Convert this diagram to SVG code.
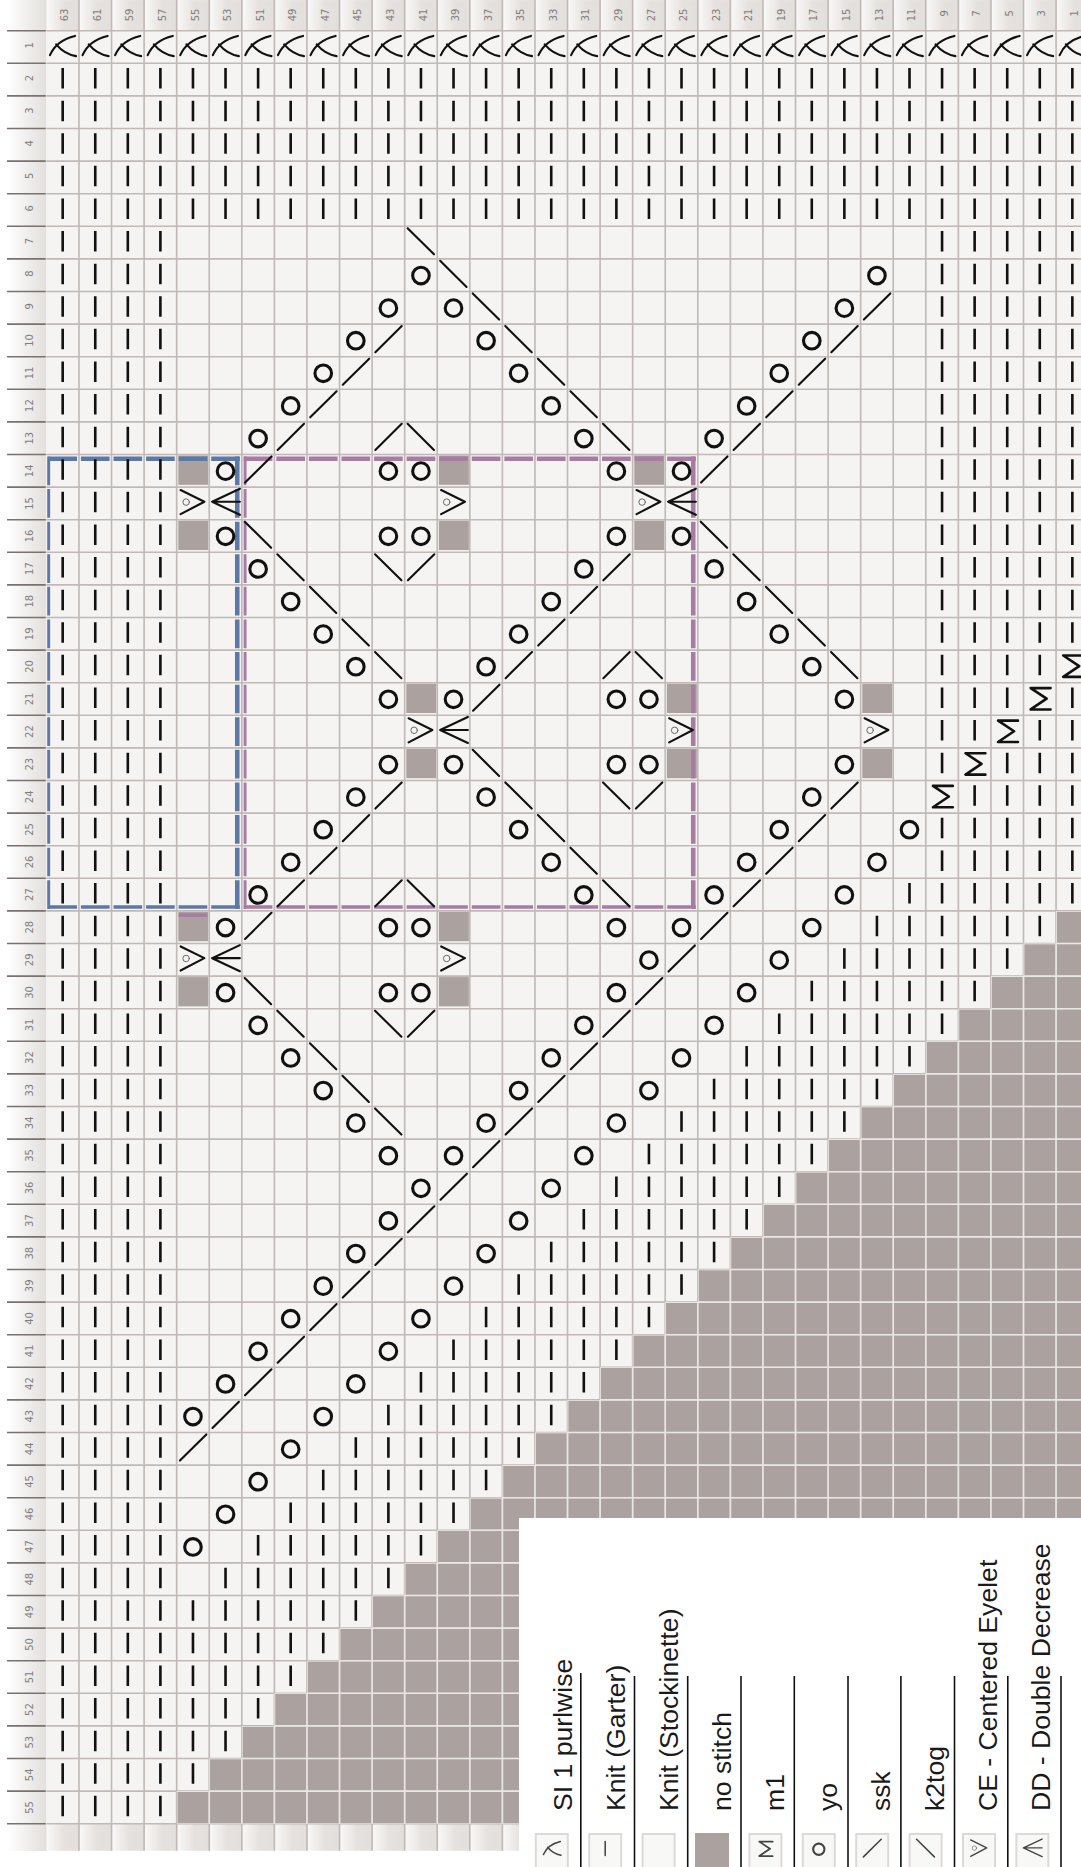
<svg xmlns="http://www.w3.org/2000/svg" width="1081" height="1867" viewBox="0 0 1081 1867">
<style>
.sym{fill:none;stroke:#111;stroke-width:.065;stroke-linecap:round;stroke-linejoin:round}
.lab{font-family:"DejaVu Sans",sans-serif;font-size:10px;fill:#827d7a;text-anchor:middle}
.leg{font-family:"Liberation Sans",Arial,sans-serif;font-size:26.6px;fill:#1a1a1a}
.box{fill:#f8f8f7;stroke:#dcd9d7;stroke-width:2}
.icon{fill:none;stroke:#444;stroke-width:.07;stroke-linecap:round;stroke-linejoin:round}
.sep{stroke:#111;stroke-width:1.6}
</style>
<defs>
<linearGradient id="hg"><stop offset="0" stop-color="#faf9f8"/><stop offset=".55" stop-color="#e5e1de"/><stop offset="1" stop-color="#e2dfdc"/></linearGradient>
<linearGradient id="lg"><stop offset="0" stop-color="#fff"/><stop offset="1" stop-color="#e2dfdc"/></linearGradient>
<pattern id="hdr" patternUnits="userSpaceOnUse" width="1" height="1"><rect width="1" height="1" fill="url(#hg)"/></pattern>
<path id="sl" d="M.11.75Q.3.3.88.16M.3.42Q.55.72.91.78"/>
<circle id="o" cx=".5" cy=".51" r=".255" stroke-width=".095"/>
<path id="ne" d="M.1.86L.91.06"/>
<path id="nw" d="M.09.06L.9.86"/>
<path id="m" d="M.83.165H.22L.71.49.22.82H.83" stroke-width=".08"/>
<g id="ce"><path d="M.12.09L.85.45.12.83" stroke-width=".065"/><circle cx=".29" cy=".46" r=".1" stroke="#666" stroke-width=".03"/></g>
<path id="dd" d="M.94.05L.09.45.94.85M.09.45H.94" stroke-width=".065"/>
<path id="bar" d="M.5.16V.8"/>
<rect id="g" x=".05" y=".03" width=".92" height=".9" fill="#aba2a0"/>
<path id="gh" d="M16.5-.025V55.025" fill="none" stroke-width="33" stroke-dasharray=".05 .95"/>
<path id="gv" d="M.975 27.445H33" fill="none" stroke-width="56.77" stroke-dasharray=".05 .95"/>
<clipPath id="st"><path d="M33 27H31V28H30V29H29V30H28V31H27V32H26V33H25V34H24V35H23V36H22V37H21V38H20V39H19V40H18V41H17V42H16V43H15V44H14V45H13V46H12V47H11V48H10V49H9V50H8V51H7V52H6V53H5V54H4V55H33Z"/></clipPath>
</defs>
<rect width="1081" height="1867" fill="#fff"/>
<rect x="7" y="0" width="39.5" height="1851" fill="url(#lg)"/>
<g id="chart" transform="translate(46.4 30.7) scale(32.57 32.6)">
<rect x="0" y="-.94" width="33" height=".94" fill="url(#hdr)"/>
<rect x="0" y="55" width="33" height=".83" fill="url(#hdr)"/>
<rect x="0" y="0" width="33" height="55" fill="#f5f4f3"/>
<path d="M33 27H31V28H30V29H29V30H28V31H27V32H26V33H25V34H24V35H23V36H22V37H21V38H20V39H19V40H18V41H17V42H16V43H15V44H14V45H13V46H12V47H11V48H10V49H9V50H8V51H7V52H6V53H5V54H4V55H33Z" fill="#aba2a0"/>
<g id="nostitch">
<use href="#g" x="4" y="13"/><use href="#g" x="12" y="13"/><use href="#g" x="18" y="13"/>
<use href="#g" x="4" y="15"/><use href="#g" x="12" y="15"/><use href="#g" x="18" y="15"/>
<use href="#g" x="11" y="20"/><use href="#g" x="19" y="20"/><use href="#g" x="25" y="20"/>
<use href="#g" x="11" y="22"/><use href="#g" x="19" y="22"/><use href="#g" x="25" y="22"/>
<use href="#g" x="4" y="27"/><use href="#g" x="12" y="27"/>
<use href="#g" x="4" y="29"/><use href="#g" x="12" y="29"/>
</g>
<g id="blue-box" fill="none" stroke="#5c78a6" stroke-dasharray=".88 .12">
<path d="M.06 13.13H5.94" stroke-width=".14"/>
<path d="M5.86 13.06V26.94" stroke-width=".14"/>
<path d="M.06 26.88H5.94" stroke-width=".11"/>
<path d="M.07 13.06V26.94" stroke-width=".09"/>
</g>
<g id="pink-box" fill="none" stroke="#a87ba3" stroke-dasharray=".88 .12">
<path d="M6.06 13.13H19.94" stroke-width=".14"/>
<path d="M19.86 13.06V26.94" stroke-width=".14"/>
<path d="M6.06 26.88H19.94" stroke-width=".11"/>
<path d="M6.1 13.06V26.94" stroke-width=".09"/>
<path d="M4.06 27.13H4.94" stroke-width=".11"/>
</g>
<g id="grid" stroke="#c0b9b6"><use href="#gh"/><use href="#gv"/></g>
<g id="grid-nostitch" stroke="#e9e6e5" clip-path="url(#st)"><use href="#gh"/><use href="#gv"/></g>
<path id="row-rules" d="M-.615-.025V55.025" fill="none" stroke="#7a7270" stroke-width="1.19" stroke-dasharray=".05 .95"/>
<path id="knit-bars" fill="none" stroke="#111" stroke-width=".63" stroke-dasharray=".08 .92" d="M.46 1.46H31.54M.46 2.46H31.54M.46 3.46H31.54M.46 4.46H31.54M.46 5.46H31.54
M.46 6.46H3.54M27.46 6.46H31.54M.46 7.46H3.54M27.46 7.46H31.54M.46 8.46H3.54M27.46 8.46H31.54M.46 9.46H3.54M27.46 9.46H31.54M.46 10.46H3.54M27.46 10.46H31.54
M.46 11.46H3.54M27.46 11.46H31.54M.46 12.46H3.54M27.46 12.46H31.54M.46 13.46H3.54M27.46 13.46H31.54M.46 14.46H3.54M27.46 14.46H31.54M.46 15.46H3.54M27.46 15.46H31.54
M.46 16.46H3.54M27.46 16.46H31.54M.46 17.46H3.54M27.46 17.46H31.54M.46 18.46H3.54M27.46 18.46H31.54
M.46 19.46H3.54M27.46 19.46H30.54
M.46 20.46H3.54M27.46 20.46H29.54M31.46 20.46H31.54
M.46 21.46H3.54M27.46 21.46H28.54M30.46 21.46H31.54
M.46 22.46H3.54M27.46 22.46H27.54M29.46 22.46H31.54
M.46 23.46H3.54M28.46 23.46H31.54
M.46 24.46H3.54M27.46 24.46H31.54
M.46 25.46H3.54M27.46 25.46H31.54
M.46 26.46H3.54M26.46 26.46H31.54
M.46 27.46H3.54M25.46 27.46H30.54
M.46 28.46H3.54M24.46 28.46H29.54
M.46 29.46H3.54M23.46 29.46H28.54
M.46 30.46H3.54M22.46 30.46H27.54
M.46 31.46H3.54M21.46 31.46H26.54
M.46 32.46H3.54M20.46 32.46H25.54
M.46 33.46H3.54M19.46 33.46H24.54
M.46 34.46H3.54M18.46 34.46H23.54
M.46 35.46H3.54M17.46 35.46H22.54
M.46 36.46H3.54M16.46 36.46H21.54
M.46 37.46H3.54M15.46 37.46H20.54
M.46 38.46H3.54M14.46 38.46H19.54
M.46 39.46H3.54M13.46 39.46H18.54
M.46 40.46H3.54M12.46 40.46H17.54
M.46 41.46H3.54M11.46 41.46H16.54
M.46 42.46H3.54M10.46 42.46H15.54
M.46 43.46H3.54M9.46 43.46H14.54
M.46 44.46H3.54M8.46 44.46H13.54
M.46 45.46H3.54M7.46 45.46H12.54
M.46 46.46H3.54M6.46 46.46H11.54
M.46 47.46H3.54M5.46 47.46H10.54
M.46 48.46H9.54M.46 49.46H8.54M.46 50.46H7.54M.46 51.46H6.54M.46 52.46H5.54M.46 53.46H4.54M.46 54.46H3.54"/>
<g id="symbols" class="sym">
<g id="sl1-row">
<use href="#sl" x="0"/><use href="#sl" x="1"/><use href="#sl" x="2"/><use href="#sl" x="3"/><use href="#sl" x="4"/><use href="#sl" x="5"/><use href="#sl" x="6"/><use href="#sl" x="7"/>
<use href="#sl" x="8"/><use href="#sl" x="9"/><use href="#sl" x="10"/><use href="#sl" x="11"/><use href="#sl" x="12"/><use href="#sl" x="13"/><use href="#sl" x="14"/><use href="#sl" x="15"/>
<use href="#sl" x="16"/><use href="#sl" x="17"/><use href="#sl" x="18"/><use href="#sl" x="19"/><use href="#sl" x="20"/><use href="#sl" x="21"/><use href="#sl" x="22"/><use href="#sl" x="23"/>
<use href="#sl" x="24"/><use href="#sl" x="25"/><use href="#sl" x="26"/><use href="#sl" x="27"/><use href="#sl" x="28"/><use href="#sl" x="29"/><use href="#sl" x="30"/><use href="#sl" x="31"/>
</g>
<g id="yo">
<use href="#o" x="11" y="7"/><use href="#o" x="25" y="7"/>
<use href="#o" x="10" y="8"/><use href="#o" x="12" y="8"/><use href="#o" x="24" y="8"/>
<use href="#o" x="9" y="9"/><use href="#o" x="13" y="9"/><use href="#o" x="23" y="9"/>
<use href="#o" x="8" y="10"/><use href="#o" x="14" y="10"/><use href="#o" x="22" y="10"/>
<use href="#o" x="7" y="11"/><use href="#o" x="15" y="11"/><use href="#o" x="21" y="11"/>
<use href="#o" x="6" y="12"/><use href="#o" x="16" y="12"/><use href="#o" x="20" y="12"/>
<use href="#o" x="5" y="13"/><use href="#o" x="10" y="13"/><use href="#o" x="11" y="13"/><use href="#o" x="17" y="13"/><use href="#o" x="19" y="13"/>
<use href="#o" x="5" y="15"/><use href="#o" x="10" y="15"/><use href="#o" x="11" y="15"/><use href="#o" x="17" y="15"/><use href="#o" x="19" y="15"/>
<use href="#o" x="6" y="16"/><use href="#o" x="16" y="16"/><use href="#o" x="20" y="16"/>
<use href="#o" x="7" y="17"/><use href="#o" x="15" y="17"/><use href="#o" x="21" y="17"/>
<use href="#o" x="8" y="18"/><use href="#o" x="14" y="18"/><use href="#o" x="22" y="18"/>
<use href="#o" x="9" y="19"/><use href="#o" x="13" y="19"/><use href="#o" x="23" y="19"/>
<use href="#o" x="10" y="20"/><use href="#o" x="12" y="20"/><use href="#o" x="17" y="20"/><use href="#o" x="18" y="20"/><use href="#o" x="24" y="20"/>
<use href="#o" x="10" y="22"/><use href="#o" x="12" y="22"/><use href="#o" x="17" y="22"/><use href="#o" x="18" y="22"/><use href="#o" x="24" y="22"/>
<use href="#o" x="9" y="23"/><use href="#o" x="13" y="23"/><use href="#o" x="23" y="23"/>
<use href="#o" x="8" y="24"/><use href="#o" x="14" y="24"/><use href="#o" x="22" y="24"/><use href="#o" x="26" y="24"/>
<use href="#o" x="7" y="25"/><use href="#o" x="15" y="25"/><use href="#o" x="21" y="25"/><use href="#o" x="25" y="25"/>
<use href="#o" x="6" y="26"/><use href="#o" x="16" y="26"/><use href="#o" x="20" y="26"/><use href="#o" x="24" y="26"/>
<use href="#o" x="5" y="27"/><use href="#o" x="10" y="27"/><use href="#o" x="11" y="27"/><use href="#o" x="17" y="27"/><use href="#o" x="19" y="27"/><use href="#o" x="23" y="27"/>
<use href="#o" x="18" y="28"/><use href="#o" x="22" y="28"/>
<use href="#o" x="5" y="29"/><use href="#o" x="10" y="29"/><use href="#o" x="11" y="29"/><use href="#o" x="17" y="29"/><use href="#o" x="21" y="29"/>
<use href="#o" x="6" y="30"/><use href="#o" x="16" y="30"/><use href="#o" x="20" y="30"/>
<use href="#o" x="7" y="31"/><use href="#o" x="15" y="31"/><use href="#o" x="19" y="31"/>
<use href="#o" x="8" y="32"/><use href="#o" x="14" y="32"/><use href="#o" x="18" y="32"/>
<use href="#o" x="9" y="33"/><use href="#o" x="13" y="33"/><use href="#o" x="17" y="33"/>
<use href="#o" x="10" y="34"/><use href="#o" x="12" y="34"/><use href="#o" x="16" y="34"/>
<use href="#o" x="11" y="35"/><use href="#o" x="15" y="35"/>
<use href="#o" x="10" y="36"/><use href="#o" x="14" y="36"/>
<use href="#o" x="9" y="37"/><use href="#o" x="13" y="37"/>
<use href="#o" x="8" y="38"/><use href="#o" x="12" y="38"/>
<use href="#o" x="7" y="39"/><use href="#o" x="11" y="39"/>
<use href="#o" x="6" y="40"/><use href="#o" x="10" y="40"/>
<use href="#o" x="5" y="41"/><use href="#o" x="9" y="41"/>
<use href="#o" x="4" y="42"/><use href="#o" x="8" y="42"/>
<use href="#o" x="7" y="43"/><use href="#o" x="6" y="44"/><use href="#o" x="5" y="45"/><use href="#o" x="4" y="46"/>
</g>
<g id="ssk">
<use href="#ne" x="25" y="8"/>
<use href="#ne" x="10" y="9"/><use href="#ne" x="24" y="9"/>
<use href="#ne" x="9" y="10"/><use href="#ne" x="23" y="10"/>
<use href="#ne" x="8" y="11"/><use href="#ne" x="22" y="11"/>
<use href="#ne" x="7" y="12"/><use href="#ne" x="10" y="12"/><use href="#ne" x="21" y="12"/>
<use href="#ne" x="6" y="13"/><use href="#ne" x="20" y="13"/>
<use href="#ne" x="11" y="16"/><use href="#ne" x="17" y="16"/>
<use href="#ne" x="16" y="17"/><use href="#ne" x="15" y="18"/>
<use href="#ne" x="14" y="19"/><use href="#ne" x="17" y="19"/>
<use href="#ne" x="13" y="20"/>
<use href="#ne" x="10" y="23"/><use href="#ne" x="18" y="23"/><use href="#ne" x="24" y="23"/>
<use href="#ne" x="9" y="24"/><use href="#ne" x="23" y="24"/>
<use href="#ne" x="8" y="25"/><use href="#ne" x="22" y="25"/>
<use href="#ne" x="7" y="26"/><use href="#ne" x="10" y="26"/><use href="#ne" x="21" y="26"/>
<use href="#ne" x="6" y="27"/><use href="#ne" x="20" y="27"/>
<use href="#ne" x="19" y="28"/><use href="#ne" x="18" y="29"/>
<use href="#ne" x="11" y="30"/><use href="#ne" x="17" y="30"/>
<use href="#ne" x="16" y="31"/><use href="#ne" x="15" y="32"/><use href="#ne" x="14" y="33"/><use href="#ne" x="13" y="34"/><use href="#ne" x="12" y="35"/><use href="#ne" x="11" y="36"/><use href="#ne" x="10" y="37"/><use href="#ne" x="9" y="38"/><use href="#ne" x="8" y="39"/><use href="#ne" x="7" y="40"/><use href="#ne" x="6" y="41"/><use href="#ne" x="5" y="42"/><use href="#ne" x="4" y="43"/>
</g>
<g id="k2tog">
<use href="#nw" x="11" y="6"/><use href="#nw" x="12" y="7"/><use href="#nw" x="13" y="8"/><use href="#nw" x="14" y="9"/><use href="#nw" x="15" y="10"/><use href="#nw" x="16" y="11"/>
<use href="#nw" x="11" y="12"/><use href="#nw" x="17" y="12"/>
<use href="#nw" x="6" y="15"/><use href="#nw" x="20" y="15"/>
<use href="#nw" x="7" y="16"/><use href="#nw" x="10" y="16"/><use href="#nw" x="21" y="16"/>
<use href="#nw" x="8" y="17"/><use href="#nw" x="22" y="17"/>
<use href="#nw" x="9" y="18"/><use href="#nw" x="23" y="18"/>
<use href="#nw" x="10" y="19"/><use href="#nw" x="18" y="19"/><use href="#nw" x="24" y="19"/>
<use href="#nw" x="13" y="22"/>
<use href="#nw" x="14" y="23"/><use href="#nw" x="17" y="23"/>
<use href="#nw" x="15" y="24"/><use href="#nw" x="16" y="25"/>
<use href="#nw" x="11" y="26"/><use href="#nw" x="17" y="26"/>
<use href="#nw" x="6" y="29"/>
<use href="#nw" x="7" y="30"/><use href="#nw" x="10" y="30"/>
<use href="#nw" x="8" y="31"/><use href="#nw" x="9" y="32"/><use href="#nw" x="10" y="33"/>
</g>
<g id="centered-eyelet">
<use href="#ce" x="4" y="14"/><use href="#ce" x="12" y="14"/><use href="#ce" x="18" y="14"/>
<use href="#ce" x="11" y="21"/><use href="#ce" x="19" y="21"/><use href="#ce" x="25" y="21"/>
<use href="#ce" x="4" y="28"/><use href="#ce" x="12" y="28"/>
</g>
<g id="double-decrease">
<use href="#dd" x="5" y="14"/><use href="#dd" x="19" y="14"/><use href="#dd" x="12" y="21"/><use href="#dd" x="5" y="28"/>
</g>
<g id="m1">
<use href="#m" x="31" y="19"/><use href="#m" x="30" y="20"/><use href="#m" x="29" y="21"/><use href="#m" x="28" y="22"/><use href="#m" x="27" y="23"/>
</g>
</g>
</g>
<g id="column-labels">
<text class="lab" transform="translate(68.2 15) rotate(-90)">63</text><text class="lab" transform="translate(100.8 15) rotate(-90)">61</text><text class="lab" transform="translate(133.3 15) rotate(-90)">59</text><text class="lab" transform="translate(165.9 15) rotate(-90)">57</text>
<text class="lab" transform="translate(198.5 15) rotate(-90)">55</text><text class="lab" transform="translate(231 15) rotate(-90)">53</text><text class="lab" transform="translate(263.6 15) rotate(-90)">51</text><text class="lab" transform="translate(296.2 15) rotate(-90)">49</text>
<text class="lab" transform="translate(328.8 15) rotate(-90)">47</text><text class="lab" transform="translate(361.3 15) rotate(-90)">45</text><text class="lab" transform="translate(393.9 15) rotate(-90)">43</text><text class="lab" transform="translate(426.5 15) rotate(-90)">41</text>
<text class="lab" transform="translate(459 15) rotate(-90)">39</text><text class="lab" transform="translate(491.6 15) rotate(-90)">37</text><text class="lab" transform="translate(524.2 15) rotate(-90)">35</text><text class="lab" transform="translate(556.8 15) rotate(-90)">33</text>
<text class="lab" transform="translate(589.3 15) rotate(-90)">31</text><text class="lab" transform="translate(621.9 15) rotate(-90)">29</text><text class="lab" transform="translate(654.5 15) rotate(-90)">27</text><text class="lab" transform="translate(687 15) rotate(-90)">25</text>
<text class="lab" transform="translate(719.6 15) rotate(-90)">23</text><text class="lab" transform="translate(752.2 15) rotate(-90)">21</text><text class="lab" transform="translate(784.7 15) rotate(-90)">19</text><text class="lab" transform="translate(817.3 15) rotate(-90)">17</text>
<text class="lab" transform="translate(849.9 15) rotate(-90)">15</text><text class="lab" transform="translate(882.5 15) rotate(-90)">13</text><text class="lab" transform="translate(915 15) rotate(-90)">11</text><text class="lab" transform="translate(947.6 13.4) rotate(-90)">9</text>
<text class="lab" transform="translate(980.2 13.4) rotate(-90)">7</text><text class="lab" transform="translate(1012.7 13.4) rotate(-90)">5</text><text class="lab" transform="translate(1045.3 13.4) rotate(-90)">3</text><text class="lab" transform="translate(1077.9 13.4) rotate(-90)">1</text>
</g>
<g id="row-labels">
<text class="lab" transform="translate(32.5 45.4) rotate(-90)">1</text><text class="lab" transform="translate(32.5 78) rotate(-90)">2</text><text class="lab" transform="translate(32.5 110.6) rotate(-90)">3</text><text class="lab" transform="translate(32.5 143.2) rotate(-90)">4</text><text class="lab" transform="translate(32.5 175.8) rotate(-90)">5</text>
<text class="lab" transform="translate(32.5 208.4) rotate(-90)">6</text><text class="lab" transform="translate(32.5 241) rotate(-90)">7</text><text class="lab" transform="translate(32.5 273.6) rotate(-90)">8</text><text class="lab" transform="translate(32.5 306.2) rotate(-90)">9</text>
<text class="lab" transform="translate(32.5 340.4) rotate(-90)">10</text><text class="lab" transform="translate(32.5 373) rotate(-90)">11</text><text class="lab" transform="translate(32.5 405.6) rotate(-90)">12</text><text class="lab" transform="translate(32.5 438.2) rotate(-90)">13</text><text class="lab" transform="translate(32.5 470.8) rotate(-90)">14</text>
<text class="lab" transform="translate(32.5 503.4) rotate(-90)">15</text><text class="lab" transform="translate(32.5 536) rotate(-90)">16</text><text class="lab" transform="translate(32.5 568.6) rotate(-90)">17</text><text class="lab" transform="translate(32.5 601.2) rotate(-90)">18</text><text class="lab" transform="translate(32.5 633.8) rotate(-90)">19</text>
<text class="lab" transform="translate(32.5 666.4) rotate(-90)">20</text><text class="lab" transform="translate(32.5 699) rotate(-90)">21</text><text class="lab" transform="translate(32.5 731.6) rotate(-90)">22</text><text class="lab" transform="translate(32.5 764.2) rotate(-90)">23</text><text class="lab" transform="translate(32.5 796.8) rotate(-90)">24</text>
<text class="lab" transform="translate(32.5 829.4) rotate(-90)">25</text><text class="lab" transform="translate(32.5 862) rotate(-90)">26</text><text class="lab" transform="translate(32.5 894.6) rotate(-90)">27</text><text class="lab" transform="translate(32.5 927.2) rotate(-90)">28</text><text class="lab" transform="translate(32.5 959.8) rotate(-90)">29</text>
<text class="lab" transform="translate(32.5 992.4) rotate(-90)">30</text><text class="lab" transform="translate(32.5 1025) rotate(-90)">31</text><text class="lab" transform="translate(32.5 1057.6) rotate(-90)">32</text><text class="lab" transform="translate(32.5 1090.2) rotate(-90)">33</text><text class="lab" transform="translate(32.5 1122.8) rotate(-90)">34</text>
<text class="lab" transform="translate(32.5 1155.4) rotate(-90)">35</text><text class="lab" transform="translate(32.5 1188) rotate(-90)">36</text><text class="lab" transform="translate(32.5 1220.6) rotate(-90)">37</text><text class="lab" transform="translate(32.5 1253.2) rotate(-90)">38</text><text class="lab" transform="translate(32.5 1285.8) rotate(-90)">39</text>
<text class="lab" transform="translate(32.5 1318.4) rotate(-90)">40</text><text class="lab" transform="translate(32.5 1351) rotate(-90)">41</text><text class="lab" transform="translate(32.5 1383.6) rotate(-90)">42</text><text class="lab" transform="translate(32.5 1416.2) rotate(-90)">43</text><text class="lab" transform="translate(32.5 1448.8) rotate(-90)">44</text>
<text class="lab" transform="translate(32.5 1481.4) rotate(-90)">45</text><text class="lab" transform="translate(32.5 1514) rotate(-90)">46</text><text class="lab" transform="translate(32.5 1546.6) rotate(-90)">47</text><text class="lab" transform="translate(32.5 1579.2) rotate(-90)">48</text><text class="lab" transform="translate(32.5 1611.8) rotate(-90)">49</text>
<text class="lab" transform="translate(32.5 1644.4) rotate(-90)">50</text><text class="lab" transform="translate(32.5 1677) rotate(-90)">51</text><text class="lab" transform="translate(32.5 1709.6) rotate(-90)">52</text><text class="lab" transform="translate(32.5 1742.2) rotate(-90)">53</text><text class="lab" transform="translate(32.5 1774.8) rotate(-90)">54</text>
<text class="lab" transform="translate(32.5 1807.4) rotate(-90)">55</text>
</g>
<g id="legend">
<rect x="519" y="1518" width="562" height="349" fill="#fff"/>
<g id="legend-separators">
<line class="sep" x1="580.8" y1="1673" x2="580.8" y2="1867"/><line class="sep" x1="634.5" y1="1676" x2="634.5" y2="1867"/><line class="sep" x1="687.7" y1="1676" x2="687.7" y2="1867"/><line class="sep" x1="741" y1="1676" x2="741" y2="1867"/><line class="sep" x1="794.3" y1="1676" x2="794.3" y2="1867"/>
<line class="sep" x1="848" y1="1676" x2="848" y2="1867"/><line class="sep" x1="900.9" y1="1676" x2="900.9" y2="1867"/><line class="sep" x1="954.5" y1="1676" x2="954.5" y2="1867"/><line class="sep" x1="1007.8" y1="1676" x2="1007.8" y2="1867"/><line class="sep" x1="1061" y1="1676" x2="1061" y2="1867"/>
</g>
<g id="legend-sl1"><rect class="box" x="535.8" y="1834" width="32" height="34"/><use class="icon" href="#sl" transform="translate(541 1838) scale(22)"/><text class="leg" transform="translate(572 1811) rotate(-90)">SI 1 purlwise</text></g>
<g id="legend-knit"><rect class="box" x="589.2" y="1834" width="32" height="34"/><use class="icon" href="#bar" transform="translate(594.2 1838) scale(22)"/><text class="leg" transform="translate(625 1811) rotate(-90)">Knit (Garter)</text></g>
<g id="legend-stockinette"><rect class="box" x="642.6" y="1834" width="32" height="34"/><text class="leg" transform="translate(678 1811) rotate(-90)">Knit (Stockinette)</text></g>
<g id="legend-nostitch"><rect x="695" y="1833" width="34" height="34" fill="#aba2a0"/><text class="leg" transform="translate(731 1811) rotate(-90)">no stitch</text></g>
<g id="legend-m1"><rect class="box" x="749.4" y="1834" width="32" height="34"/><use class="icon" href="#m" transform="translate(754.4 1838) scale(22)"/><text class="leg" transform="translate(784 1811) rotate(-90)">m1</text></g>
<g id="legend-yo"><rect class="box" x="802.8" y="1834" width="32" height="34"/><use class="icon" href="#o" transform="translate(807.8 1838) scale(22)"/><text class="leg" transform="translate(837 1811) rotate(-90)">yo</text></g>
<g id="legend-ssk"><rect class="box" x="856.2" y="1834" width="32" height="34"/><use class="icon" href="#ne" transform="translate(861.2 1838) scale(22)"/><text class="leg" transform="translate(890 1811) rotate(-90)">ssk</text></g>
<g id="legend-k2tog"><rect class="box" x="909.6" y="1834" width="32" height="34"/><use class="icon" href="#nw" transform="translate(914.6 1838) scale(22)"/><text class="leg" transform="translate(944 1811) rotate(-90)">k2tog</text></g>
<g id="legend-ce"><rect class="box" x="963" y="1834" width="32" height="34"/><use class="icon" href="#ce" transform="translate(968 1838) scale(22)"/><text class="leg" transform="translate(997 1811) rotate(-90)">CE - Centered Eyelet</text></g>
<g id="legend-dd"><rect class="box" x="1016.4" y="1834" width="32" height="34"/><use class="icon" href="#dd" transform="translate(1021.4 1838) scale(22)"/><text class="leg" transform="translate(1050 1811) rotate(-90)">DD - Double Decrease</text></g>
</g>
</svg>
